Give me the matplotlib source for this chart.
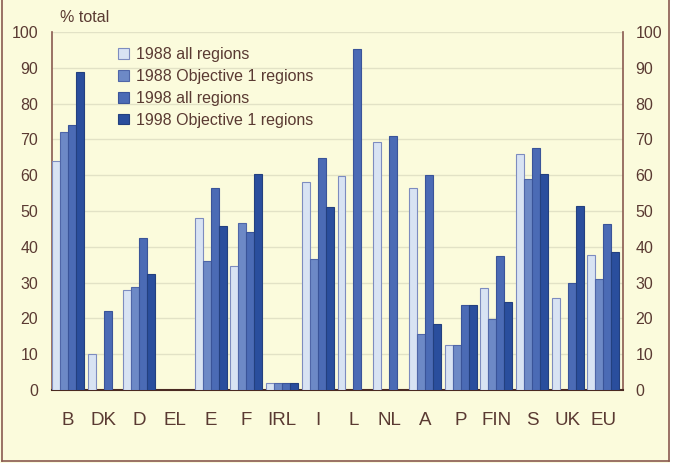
import matplotlib.pyplot as plt
import numpy as np
from matplotlib.lines import Line2D
from matplotlib.patches import Rectangle

plt.rcParams['font.family'] = ['Liberation Sans', 'DejaVu Sans']

# Data (% total), NaN = no bar
countries = ["B", "DK", "D", "EL", "E", "F", "IRL", "I", "L", "NL", "A", "P", "FIN", "S", "UK", "EU"]
all_1988 = [64, 10, 28, np.nan, 48, 34.5, 2, 58, 59.7, 69.2, 56.5, 12.7, 28.4, 66, 25.8, 37.8]
obj1_1988 = [72, np.nan, 28.7, np.nan, 36, 46.7, 2, 36.7, np.nan, np.nan, 15.7, 12.7, 19.8, 59, np.nan, 31]
all_1998 = [74, 22, 42.5, np.nan, 56.4, 44.2, 2, 64.8, 95.2, 70.9, 60, 23.8, 37.5, 67.5, 29.9, 46.4]
obj1_1998 = [88.8, np.nan, 32.5, np.nan, 45.7, 60.3, 2, 51, np.nan, np.nan, 18.3, 23.8, 24.6, 60.2, 51.4, 38.6]
labels = ["1988 all regions", "1988 Objective 1 regions", "1998 all regions", "1998 Objective 1 regions"]

bg = "#fbfbdc"
txt = "#5a3a32"
colors = ["#d8e3f3", "#6d89c6", "#4b6bb5", "#2a4e9d"]
edges = ["#7d8cbf", "#4f66a8", "#3a5499", "#23407f"]

fig = plt.figure(figsize=(6.78, 4.63), dpi=100, facecolor=bg)
ax = fig.add_axes([52/678, 1-390/463, (623-52)/678, (390-32)/463])
ax.set_facecolor(bg)

x = np.arange(len(countries))
w = 0.224
series = [all_1988, obj1_1988, all_1998, obj1_1998]
for k, vals in enumerate(series):
    ax.bar(x + (k - 1.5) * w, vals, width=w, color=colors[k], edgecolor=edges[k],
           linewidth=0.8, label=labels[k], zorder=3)

ax.set_ylim(0, 100)
ax.set_xlim(-0.448, 15.552)
ax.set_yticks(range(0, 101, 10))
ax.grid(axis='y', color="#e2e2c6", linewidth=1, zorder=0)
ax.set_xticks(x)
ax.set_xticklabels(countries, fontsize=13.5, color=txt)
ax.tick_params(axis='x', length=0, pad=16)
ax.tick_params(axis='y', length=0, labelsize=11.5, labelcolor=txt, pad=10)

ax.spines["top"].set_visible(False)
ax.spines["left"].set_color("#8a5a50")
ax.spines["right"].set_color("#8a5a50")
ax.spines["bottom"].set_color("#4a2a22")
ax.spines["left"].set_linewidth(1.2)
ax.spines["right"].set_linewidth(1.2)
ax.spines["bottom"].set_linewidth(1.5)

ax2 = ax.twinx()
ax2.set_ylim(0, 100)
ax2.set_yticks(range(0, 101, 10))
ax2.tick_params(axis='y', length=0, labelsize=11.5, labelcolor=txt, pad=9)
for s in ax2.spines.values():
    s.set_visible(False)

fig.text(60/678, 1-17/463, "% total", fontsize=11.5, color=txt, va='center', ha='left')

ax.legend(loc='upper left', bbox_to_anchor=(52/571, 1-1/358), frameon=False,
          fontsize=11.5, handlelength=0.65, handleheight=0.65, handletextpad=0.45,
          labelspacing=0.42, labelcolor=txt)

# outer frame
fig.add_artist(Rectangle((670/678, 0), 8/678, 1, transform=fig.transFigure,
                         color="white", zorder=0))
fc = "#8a5a50"
fig.add_artist(Line2D([2/678, 2/678], [1 - 461/463, 1], transform=fig.transFigure, color=fc, lw=1.2))
fig.add_artist(Line2D([669/678, 669/678], [1 - 461/463, 1], transform=fig.transFigure, color=fc, lw=1.2))
fig.add_artist(Line2D([2/678, 669/678], [1 - 461/463, 1 - 461/463], transform=fig.transFigure, color=fc, lw=1.2))

fig.savefig("out.png", dpi=100, facecolor=bg)
